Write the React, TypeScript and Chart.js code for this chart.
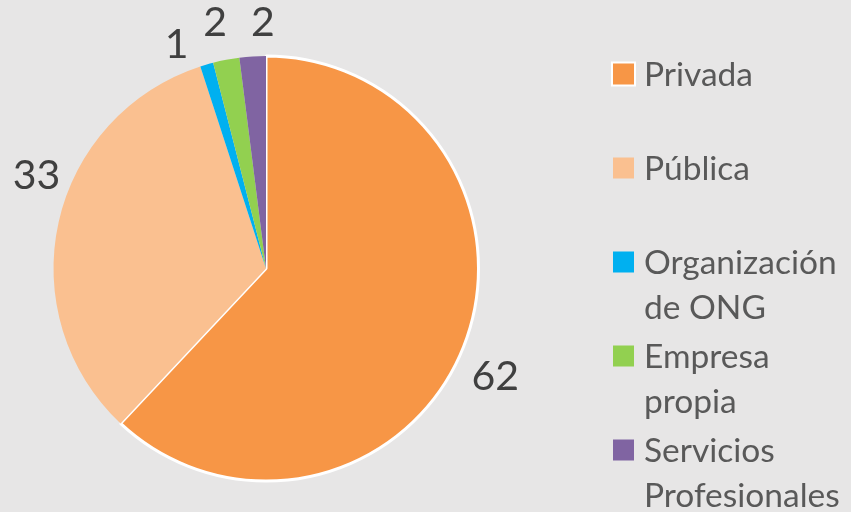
import React, { useEffect, useRef } from "react";
import { Chart, registerables } from "chart.js";

Chart.register(...registerables);

const categories = ["Privada", "Pública", "Organización de ONG", "Empresa propia", "Servicios Profesionales"];
const values = [62, 33, 1, 2, 2];
const colors = ["#F79646", "#FAC090", "#00B0F0", "#92D050", "#8064A2"];

// label placement style: angular nudge (degrees) from slice mid-angle, and distance beyond the rim
const labelNudgeDeg = [3.7, 9.4, -5.6, -0.9, 2.9];
const labelGap = [41, 35, 28, 38, 33];

const BG = "#E7E6E6";
const TEXT = "#404040";
const FONT = "Lato, 'Open Sans', sans-serif";

const labelPlugin = {
  id: "outLabels",
  afterDatasetsDraw(chart: any) {
    const ctx = chart.ctx;
    const meta = chart.getDatasetMeta(0);
    ctx.save();
    ctx.font = `41px ${FONT}`;
    ctx.fillStyle = TEXT;
    ctx.textAlign = "center";
    ctx.textBaseline = "middle";
    meta.data.forEach((arc: any, i: number) => {
      const p = arc.getProps(["x", "y", "startAngle", "endAngle", "outerRadius"], true);
      const mid = (p.startAngle + p.endAngle) / 2 + (labelNudgeDeg[i] * Math.PI) / 180;
      const r = p.outerRadius + labelGap[i];
      const cx = p.x + Math.cos(mid) * r;
      const cy = p.y + Math.sin(mid) * r;
      ctx.fillText(String(values[i]), cx, cy);
    });
    ctx.restore();
  },
};

const legendPlugin = {
  id: "sideLegend",
  afterDraw(chart: any) {
    const ctx = chart.ctx;
    ctx.save();
    ctx.font = `33.5px ${FONT}`;
    ctx.textBaseline = "middle";
    ctx.textAlign = "left";
    const markerX = 613;
    const textX = 644;
    const top = 74;
    const spacing = 94;
    const lineH = 45;
    const maxW = 190;
    categories.forEach((label, i) => {
      const y = top + i * spacing;
      if (i === 0) {
        ctx.fillStyle = "#FFFFFF";
        ctx.fillRect(markerX - 2, y - 12.5, 25, 25);
      }
      ctx.fillStyle = colors[i];
      ctx.fillRect(markerX, y - 10.5, 21, 21);
      const words = label.split(" ");
      const lines: string[] = [];
      let cur = "";
      words.forEach((wd) => {
        const test = cur ? cur + " " + wd : wd;
        if (cur && ctx.measureText(test).width > maxW) {
          lines.push(cur);
          cur = wd;
        } else cur = test;
      });
      if (cur) lines.push(cur);
      ctx.fillStyle = "#595959";
      lines.forEach((ln, k) => ctx.fillText(ln, textX, y + 1 + k * lineH));
    });
    ctx.restore();
  },
};

export default function App() {
  const ref = useRef<HTMLCanvasElement | null>(null);
  useEffect(() => {
    document.body.style.margin = "0";
    const chart = new Chart(ref.current as HTMLCanvasElement, {
      type: "pie",
      data: {
        labels: categories,
        datasets: [
          {
            data: values,
            backgroundColor: colors,
            borderColor: "#FFFFFF",
            borderWidth: [3, 0, 0, 0, 0],
          },
        ],
      },
      options: {
        animation: false,
        responsive: false,
        layout: { padding: { left: 52, right: 371, top: 54, bottom: 29 } },
        plugins: { legend: { display: false }, tooltip: { enabled: false } },
      },
      plugins: [labelPlugin, legendPlugin],
    });
    return () => chart.destroy();
  }, []);
  return (
    <div style={{ width: 851, height: 512, background: BG }}>
      <canvas ref={ref} width={851} height={512} style={{ display: "block" }} />
    </div>
  );
}
